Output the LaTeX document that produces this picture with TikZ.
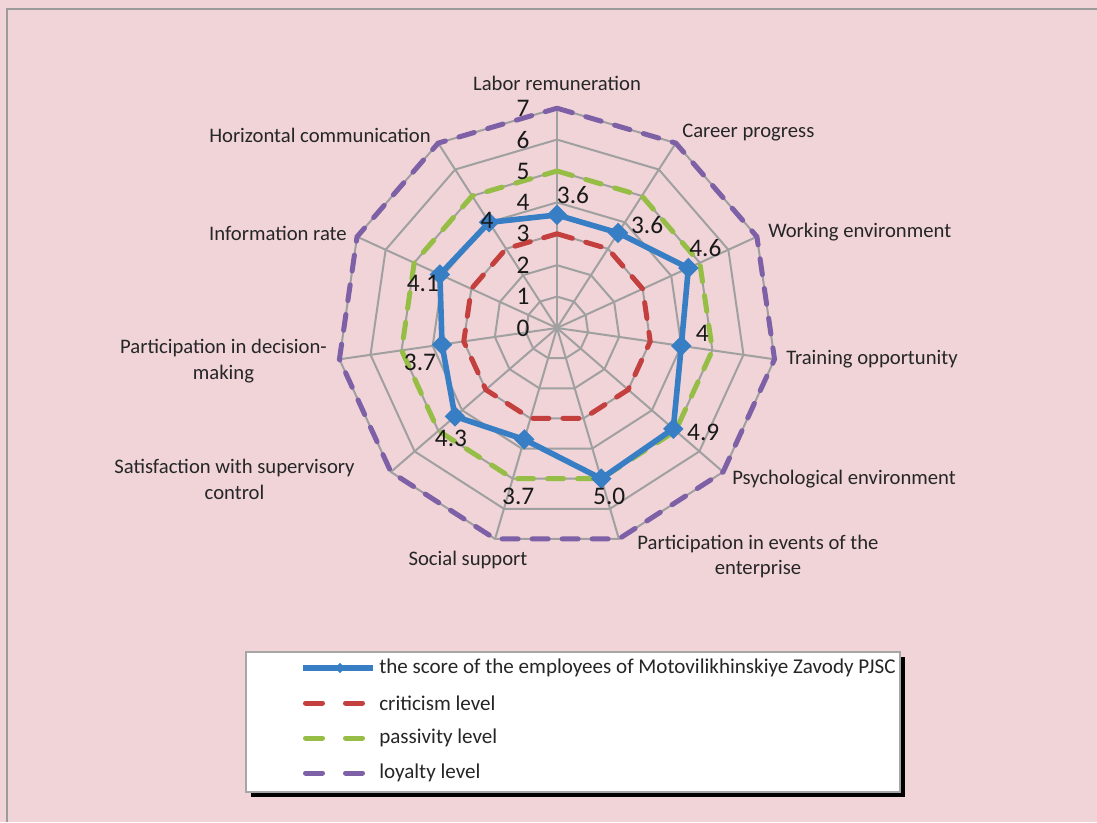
\documentclass[tikz,border=0pt]{standalone}
\usepackage{fontspec}
\setmainfont{Carlito}
\usetikzlibrary{shapes.geometric, positioning, calc, shadows}
\definecolor{chartbg}{RGB}{240,212,216}
\definecolor{framegray}{RGB}{155,155,155}
\definecolor{webgray}{RGB}{160,160,160}
\definecolor{scoreblue}{RGB}{56,126,196}
\definecolor{critred}{RGB}{196,64,62}
\definecolor{passgreen}{RGB}{150,190,70}
\definecolor{loyalpurple}{RGB}{126,96,166}
\tikzset{
  webline/.style={draw=webgray, line width=1.5pt},
  levelline/.style={line width=3.75pt, line cap=round, dash pattern=on 12pt off 10.5pt},
  scoreline/.style={draw=scoreblue, line width=4.2pt, line join=round},
  scoremark/.style={diamond, fill=scoreblue, inner sep=0pt, minimum size=15.5pt},
  catlabel/.style={font=\fontsize{15.5}{19}\selectfont, text=black!85, inner sep=0pt, align=center},
  numlabel/.style={font=\fontsize{19}{22}\selectfont, text=black!90, inner sep=0pt},
  legendbox/.style={draw=gray!70, line width=1.5pt, fill=white, minimum width=490.5pt, minimum height=105pt,
    drop shadow={shadow xshift=3.5pt, shadow yshift=-3.5pt, fill=black, opacity=1}},
  legendtext/.style={font=\fontsize{15.8}{19}\selectfont, text=black!85, inner sep=0pt, anchor=west},
}

\begin{document}
\begin{tikzpicture}[x=0.75pt, y=0.75pt]
  \def\ru{31.4}
  \path[use as bounding box, fill=chartbg] (-557,-494) rectangle (540,328);
  \draw[framegray, line width=2pt] (-550,-494) |- (540,319);

  % web: spokes and rings
  \foreach \k in {0,...,10}
    \draw[webline] (0,0) -- ({90-\k*360/11}:{7*\ru});
  \foreach \r in {1,...,7}
    \draw[webline] (90:{\r*\ru}) \foreach \k in {1,...,10}{ -- ({90-\k*360/11}:{\r*\ru})} -- cycle;

  % reference levels
  \foreach \lvl/\col in {3/critred, 5/passgreen, 7/loyalpurple}
    \draw[levelline, draw=\col] (90:{\lvl*\ru}) \foreach \k in {1,...,10}{ -- ({90-\k*360/11}:{\lvl*\ru})} -- cycle;

  % axis ticks
  \foreach \t in {0,...,7}
    \node[numlabel] (tick\t) at (-34, {\t*\ru}) {\t};

  % employee score
  \foreach \v [count=\k from 0] in {3.6,3.6,4.6,4,4.9,5.0,3.7,4.3,3.7,4.1,4}
    \coordinate (s\k) at ({90-\k*360/11}:{\v*\ru});
  \draw[scoreline] (s0) \foreach \k in {1,...,10}{ -- (s\k)} -- cycle;
  \foreach \k in {0,...,10}
    \node[scoremark] (m\k) at (s\k) {};
  \foreach \v/\dx/\dy [count=\k from 0] in {3.6/16/20, 3.6/29/8, 4.6/17/20, 4/21/13, 4.9/30/-4, 5.0/8/-18,
      3.7/-6/-57, 4.3/-4/-22, 3.7/-22/-18, 4.1/-17/-9, 4/-2/2}
    \node[numlabel] (val\k) at ($(s\k)+(\dx,\dy)$) {\v};

  % category labels
  \node[catlabel] (labor) at (0,245) {Labor remuneration};
  \node[catlabel, anchor=west] (career) at (125,195) {Career progress};
  \node[catlabel, anchor=west] (workenv) at (211,96) {Working environment};
  \node[catlabel, anchor=west] (training) at (229,-31) {Training opportunity};
  \node[catlabel, anchor=west] (psych) at (175,-151) {Psychological environment};
  \node[catlabel] (events) at (201,-228.5) {Participation in events of the\\enterprise};
  \node[catlabel] (social) at (-89,-232) {Social support};
  \node[catlabel] (supervis) at (-322.5,-151.5) {Satisfaction with supervisory\\control};
  \node[catlabel] (decision) at (-333.5,-33) {Participation in decision-\\making};
  \node[catlabel, anchor=east] (inforate) at (-210,95) {Information rate};
  \node[catlabel, anchor=east] (horizcom) at (-126,193) {Horizontal communication};

  % legend
  \node[legendbox] (legend) at (16,-394) {};
  \draw[scoreline] (-254,-340) -- (-184,-340);
  \node[scoremark, minimum size=8pt] (legmark) at (-217,-340) {};
  \node[legendtext] (leg1) at (-178,-340) {the score of the employees of Motovilikhinskiye Zavody PJSC};
  \foreach \col/\txt/\y [count=\i from 2] in {critred/criticism level/-375, passgreen/passivity level/-410, loyalpurple/loyalty level/-445} {
    \draw[draw=\col, line width=3.75pt, line cap=round, dash pattern=on 12.75pt off 17.25pt] (-251.5,\y) -- (-194.5,\y);
    \node[legendtext] (leg\i) at (-178,\y) {\txt};
  }
\end{tikzpicture}
\end{document}
